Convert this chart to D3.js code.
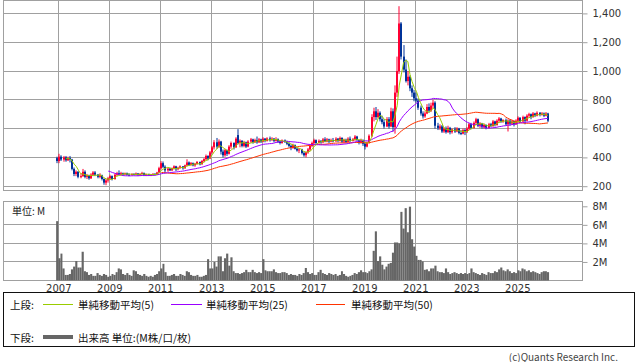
<!DOCTYPE html>
<html><head><meta charset="utf-8">
<script src="https://cdn.jsdelivr.net/npm/d3@7"></script>
<style>
html,body{margin:0;padding:0;background:#fff;}
svg{display:block;}
</style></head><body>
<svg id="c" width="638" height="362"></svg>
<script>
// ---- data (monthly, Dec 2006 .. Mar 2026) ----
const firstMonth = [2006, 11]; // year, month index (Dec)
const open = [
 395,
 375,405,385,400,380,395,385,320,285,300,265,270,
 300,265,275,255,280,295,280,265,275,250,225,240,
 255,270,250,280,290,280,290,282,290,280,278,285,
 280,288,278,285,292,278,282,276,280,286,280,295,
 325,360,335,310,322,310,325,338,318,328,338,325,
 345,365,348,360,345,355,368,352,375,388,410,392,
 435,470,505,475,510,440,415,450,425,475,500,470,
 555,500,515,480,505,475,510,525,505,520,505,525,
 510,530,515,532,520,530,515,528,510,500,518,510,
 495,480,465,485,460,448,455,430,415,435,455,480,
 500,520,500,515,505,525,510,525,510,520,512,530,
 515,535,510,522,508,530,515,525,545,520,500,520,
 495,475,500,550,680,720,680,710,665,645,615,665,
 615,720,610,850,1000,1330,1100,1010,930,960,880,850,
 810,795,745,705,685,705,750,725,760,780,620,605,
 615,580,600,575,605,575,595,580,600,570,565,590,
 575,600,630,605,640,665,620,635,610,625,605,630,
 618,650,625,655,670,650,660,630,655,635,650,630,
 655,675,650,680,655,690,700,680,705,690,710,695,
 705,690,705
];
const high = [
 405,
 425,415,410,410,405,410,390,330,310,305,290,320,
 310,285,280,290,305,305,285,290,280,255,250,265,
 280,275,290,300,310,300,295,295,295,290,290,290,
 295,292,290,300,295,288,287,285,290,290,300,335,
 374,372,345,330,328,330,345,342,335,345,340,350,
 387,372,368,365,362,375,372,382,395,420,415,445,
 480,520,535,525,515,455,460,455,485,510,505,540,
 596,525,520,515,510,520,535,530,530,545,535,530,
 540,535,540,545,540,535,540,532,520,525,525,515,
 505,490,495,490,470,465,460,440,440,465,490,510,
 530,525,525,520,535,540,535,530,530,535,540,535,
 545,540,530,530,540,545,535,555,550,525,530,525,
 510,510,560,700,745,750,735,720,690,665,680,680,
 745,740,900,1100,1450,1340,1180,1080,1000,970,900,870,
 850,810,760,720,720,770,775,780,800,790,640,630,
 625,610,615,620,612,600,610,610,605,590,600,600,
 610,640,640,650,675,670,645,640,635,630,640,640,
 660,655,665,680,675,665,670,665,665,660,655,665,
 685,680,690,685,700,710,705,715,710,720,715,715,
 712,715,710
];
const low = [
 360,
 360,375,370,370,375,365,310,270,270,255,255,265,
 255,250,245,250,270,270,255,255,240,210,207,225,
 245,240,245,270,275,275,275,278,275,270,272,275,
 275,270,272,280,270,270,272,270,275,275,278,290,
 315,325,290,300,305,305,318,305,310,320,315,320,
 338,340,342,338,335,350,345,350,365,380,380,388,
 425,455,460,465,420,400,405,410,420,460,455,465,
 490,470,470,470,465,470,500,495,500,495,500,500,
 505,505,510,510,515,505,510,500,490,495,500,485,
 470,450,460,455,440,430,420,405,400,425,445,470,
 490,490,495,495,500,505,505,500,505,505,508,505,
 510,500,500,500,505,505,510,515,515,490,495,480,
 455,470,495,540,650,660,670,650,630,600,610,600,
 610,580,565,820,980,1080,990,920,900,860,820,790,
 780,730,690,670,675,700,710,715,740,600,590,590,
 570,570,565,570,560,565,570,575,560,555,560,555,
 570,590,595,600,625,610,605,600,600,595,600,610,
 612,615,620,640,640,640,620,580,620,625,615,625,
 645,640,645,630,650,675,665,675,680,685,685,690,
 680,685,645
];
const close = [
 375,
 405,385,400,380,395,385,320,285,300,265,270,300,
 265,275,255,280,295,280,265,275,250,225,240,255,
 270,250,280,290,280,290,282,290,280,278,285,280,
 288,278,285,292,278,282,276,280,286,280,295,325,
 360,335,310,322,310,325,338,318,328,338,325,345,
 365,348,360,345,355,368,352,375,388,410,392,435,
 470,505,475,510,440,415,450,425,475,500,470,530,
 500,515,480,505,475,510,525,505,520,505,525,510,
 530,515,532,520,530,515,528,510,500,518,510,495,
 480,465,485,460,448,455,430,415,435,455,480,500,
 520,500,515,505,525,510,525,510,520,512,530,515,
 535,510,522,508,530,515,525,545,520,500,520,495,
 475,500,550,680,720,680,710,665,645,615,665,615,
 720,610,850,1000,1330,1100,1010,930,960,880,850,810,
 795,745,705,685,705,750,725,760,780,620,605,615,
 580,600,575,605,575,595,580,600,570,565,590,575,
 600,630,605,640,665,620,635,610,625,605,630,618,
 650,625,655,670,650,660,630,655,635,650,630,655,
 675,650,680,655,690,700,680,705,690,710,695,705,
 690,705,655
];
// volume in millions
const volume = [
 6.4,
 2.4,2.9,1.3,0.6,0.6,0.7,1.2,1.5,2.1,1.4,1.4,3.1,
 1.0,0.9,0.6,0.7,0.5,0.5,0.8,0.6,0.5,0.7,0.6,0.4,
 0.5,0.7,0.6,0.9,1.3,1.2,0.7,0.6,0.8,0.6,0.5,1.1,
 1.0,0.7,0.6,0.5,0.7,0.5,0.4,0.5,0.4,0.6,0.7,1.0,
 1.3,1.8,0.9,0.5,0.5,0.6,0.7,0.5,0.5,0.7,0.6,0.5,
 1.0,0.9,0.6,0.5,0.5,0.6,0.4,0.4,0.5,0.6,2.3,1.3,
 1.3,2.0,1.5,2.6,2.6,1.0,2.4,2.9,1.6,2.5,1.0,0.8,
 0.8,0.7,0.8,0.9,1.15,0.9,0.9,1.15,0.9,0.8,0.9,0.8,
 2.3,1.1,1.0,1.0,1.0,1.2,0.9,0.8,0.8,0.9,0.9,0.8,
 0.6,0.7,0.6,0.6,0.5,0.7,0.6,0.8,1.35,0.9,0.7,0.8,
 0.6,0.6,0.9,1.15,0.8,0.7,0.6,0.8,0.7,0.6,0.7,0.5,
 0.6,1.0,0.7,0.5,0.4,0.5,0.6,0.8,0.7,0.9,1.1,0.9,
 0.9,0.8,1.0,1.2,3.2,5.3,2.1,2.6,1.7,1.2,1.5,1.8,
 1.9,3.0,4.1,4.1,4.0,7.4,5.6,7.8,5.2,7.96,4.45,3.66,
 2.66,2.22,2.22,2.05,1.15,1.2,1.0,1.3,1.3,1.6,1.0,0.9,
 0.9,0.8,1.3,0.9,0.7,0.8,0.9,0.8,0.7,0.8,0.7,0.8,
 0.7,0.8,1.3,0.9,0.8,0.7,0.6,0.8,0.7,0.6,0.9,0.8,
 0.8,1.0,0.9,1.2,1.4,1.1,1.0,1.2,1.0,0.8,0.9,0.8,
 1.1,1.0,1.3,1.2,1.0,1.1,0.9,1.0,0.9,0.8,0.7,0.9,
 1.0,1.0,0.9
];
const priceTicks = [200, 400, 600, 800, 1000, 1200, 1400];
const volumeTicks = [2, 4, 6, 8];
const volumeGrid = [2, 4, 6];
const yearTicks = [2007, 2009, 2011, 2013, 2015, 2017, 2019, 2021, 2023, 2025];
const maPeriods = [5, 25, 50];
const maColors = ["#99cc00", "#9900ff", "#ff3300"];
const legendTopLabels = ["単純移動平均(5)", "単純移動平均(25)", "単純移動平均(50)"];
const legendTopTitle = "上段:";
const legendBottomTitle = "下段:";
const legendBottomLabel = "出来高 単位:(M株/口/枚)";
const volumeUnit = "単位: M";
const credit = "(c)Quants Research Inc.";

// ---- chart ----
const svg = d3.select("#c");
const GRID = "#a0a0a0";
const TXT = "#333";
const LEFT = 3.5, RIGHT = 582.5;
const P_TOP = 0.5, P_BOT = 190.5, V_TOP = 201.5, V_BOT = 280.5;

const months = close.map((_, i) => d3.utcMonth.offset(new Date(Date.UTC(firstMonth[0], firstMonth[1], 1)), i));
const x = d3.scaleUtc()
  .domain([new Date(Date.UTC(2007, 0, 1)), new Date(Date.UTC(2025, 0, 1))])
  .range([58.3, 517.3]);
const yP = d3.scaleLinear().domain([200, 1400]).range([186.2, 13.4]);
const yV = d3.scaleLinear().domain([0, 8]).range([280.5, 206.3]);
const px = v => Math.floor(v) + 0.5;
const xMid = i => (x(months[i]) + x(d3.utcMonth.offset(months[i], 1))) / 2;

const g = svg.append("g");

// vertical grid (through both panels)
g.selectAll(".vg").data(yearTicks).join("line")
  .attr("x1", d => px(x(new Date(Date.UTC(d, 0, 1))))).attr("x2", d => px(x(new Date(Date.UTC(d, 0, 1)))))
  .attr("y1", P_TOP).attr("y2", V_BOT).attr("stroke", GRID);
// price horizontal grid
g.selectAll(".hg").data(priceTicks).join("line")
  .attr("x1", LEFT).attr("x2", RIGHT).attr("y1", d => px(yP(d))).attr("y2", d => px(yP(d))).attr("stroke", GRID);
// volume horizontal grid
g.selectAll(".vhg").data(volumeGrid).join("line")
  .attr("x1", LEFT).attr("x2", RIGHT).attr("y1", d => px(yV(d))).attr("y2", d => px(yV(d))).attr("stroke", GRID);
// frames
g.append("rect").attr("x", LEFT).attr("y", P_TOP).attr("width", RIGHT - LEFT).attr("height", P_BOT - P_TOP)
  .attr("fill", "none").attr("stroke", GRID);
g.append("rect").attr("x", LEFT).attr("y", V_TOP).attr("width", RIGHT - LEFT).attr("height", V_BOT - V_TOP)
  .attr("fill", "none").attr("stroke", GRID);

// right axes
const axP = d3.axisRight(yP).tickValues(priceTicks).tickFormat(d3.format(",")).tickSize(5).tickPadding(5);
const gP = svg.append("g").attr("transform", `translate(${RIGHT},0)`).call(axP);
const axV = d3.axisRight(yV).tickValues(volumeTicks).tickFormat(d => d + "M").tickSize(5).tickPadding(5);
const gV = svg.append("g").attr("transform", `translate(${RIGHT},0)`).call(axV);
const axX = d3.axisBottom(x).tickValues(yearTicks.map(d => new Date(Date.UTC(d, 0, 1)))).tickFormat(d3.utcFormat("%Y")).tickSize(0).tickPadding(4);
const gX = svg.append("g").attr("transform", `translate(0,${V_BOT})`).call(axX);
[gP, gV, gX].forEach(a => {
  a.select(".domain").remove();
  a.selectAll("line").attr("stroke", GRID);
  a.selectAll("text").attr("fill", TXT).style("font-family", "DejaVu Sans").style("font-size", "10px");
});

// volume bars
svg.append("g").selectAll("rect").data(volume).join("rect")
  .attr("x", (d, i) => x(months[i]))
  .attr("width", (d, i) => x(d3.utcMonth.offset(months[i], 1)) - x(months[i]))
  .attr("y", d => yV(d)).attr("height", d => yV(0) - yV(d))
  .attr("fill", "#666");

svg.append("text").attr("x", 12).attr("y", 210).attr("dominant-baseline", "central")
  .style("font-family", "Noto Sans CJK JP").style("font-size", "10px").attr("fill", "#222").text(volumeUnit);

// candles
const cg = svg.append("g");
close.forEach((c, i) => {
  const o = open[i], up = c >= o;
  const col = up ? "#ff0033" : "#003399";
  const xc = Math.round(xMid(i));
  cg.append("rect").attr("x", xc - 0.5).attr("width", 1)
    .attr("y", yP(high[i])).attr("height", Math.max(1, yP(low[i]) - yP(high[i]))).attr("fill", col);
  const top = yP(Math.max(o, c)), bot = yP(Math.min(o, c));
  cg.append("rect").attr("x", xc - 1).attr("width", 2)
    .attr("y", top).attr("height", Math.max(1, bot - top)).attr("fill", col);
});

// moving averages
maPeriods.slice().reverse().forEach((p, k) => {
  const idx = maPeriods.length - 1 - k;
  const pts = [];
  for (let i = p - 1; i < close.length; i++) {
    pts.push([xMid(i), d3.mean(close.slice(i - p + 1, i + 1))]);
  }
  svg.append("path").datum(pts)
    .attr("d", d3.line().x(d => d[0]).y(d => yP(d[1])))
    .attr("fill", "none").attr("stroke", maColors[idx]).attr("stroke-width", 1);
});

// legend
const lg = svg.append("g").style("font-family", "Noto Sans CJK JP").style("font-size", "10.5px");
lg.append("rect").attr("x", 3.5).attr("y", 292.5).attr("width", 631).attr("height", 54)
  .attr("fill", "#fff").attr("stroke", "#111");
const row1 = 304, row2 = 337;
lg.append("text").attr("x", 10).attr("y", row1).attr("dominant-baseline", "central").attr("fill", "#111").text(legendTopTitle);
const legX = [[43, 73, 78], [171, 202, 206], [316, 345, 351]];
legendTopLabels.forEach((t, i) => {
  lg.append("line").attr("x1", legX[i][0]).attr("x2", legX[i][1]).attr("y1", row1 + 0.5).attr("y2", row1 + 0.5)
    .attr("stroke", maColors[i]).attr("stroke-width", 1);
  lg.append("text").attr("x", legX[i][2]).attr("y", row1).attr("dominant-baseline", "central").attr("fill", "#111").text(t);
});
lg.append("text").attr("x", 10).attr("y", row2).attr("dominant-baseline", "central").attr("fill", "#111").text(legendBottomTitle);
lg.append("line").attr("x1", 43).attr("x2", 73).attr("y1", row2).attr("y2", row2).attr("stroke", "#666").attr("stroke-width", 4);
lg.append("text").attr("x", 78).attr("y", row2).attr("dominant-baseline", "central").attr("fill", "#111").text(legendBottomLabel);

svg.append("text").attr("x", 618).attr("y", 356).attr("text-anchor", "end").attr("dominant-baseline", "central")
  .style("font-family", "Noto Sans CJK JP").style("font-size", "10px").attr("fill", "#444").text(credit);
</script>
</body></html>
